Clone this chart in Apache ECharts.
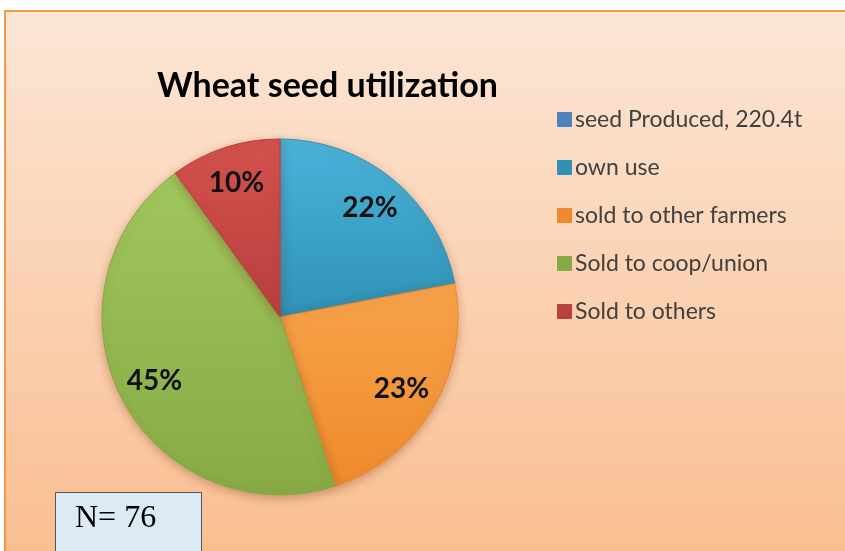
<!DOCTYPE html>
<html>
<head>
<meta charset="utf-8">
<script src="https://cdn.jsdelivr.net/npm/echarts@6/dist/echarts.min.js"></script>
<style>
html, body { margin: 0; padding: 0; background: #fff; }
#main { width: 845px; height: 551px; }
</style>
</head>
<body>
<div id="main"></div>
<script>
// 饼图数据
var categories = [
  'seed Produced, 220.4t',
  'own use',
  'sold to other farmers',
  'Sold to coop/union',
  'Sold to others'
]
var shares = [0, 22, 23, 45, 10]
var colorsTop = ['#4f81bd', '#4ab3da', '#f8a44a', '#a0c75d', '#d4514e']
var colorsBottom = ['#4f81bd', '#2f91b6', '#ee8a2c', '#87aa45', '#b8403d']
var sampleSize = 76

var mCharts = echarts.init(document.getElementById('main'))

function sliceColor(i) {
  return new echarts.graphic.LinearGradient(0, 0, 0, 1, [
    { offset: 0, color: colorsTop[i] },
    { offset: 1, color: colorsBottom[i] }
  ])
}

var pieData = categories.map(function (name, i) {
  return {
    name: name,
    value: shares[i],
    itemStyle: { color: sliceColor(i), borderColor: colorsBottom[i] }
  }
})

var labelData = categories.map(function (name, i) {
  return { name: name, value: shares[i] }
})

var option = {
  animation: false,
  title: {
    text: 'Wheat seed utilization',
    left: 152,
    top: 64,
    textStyle: {
      fontFamily: 'Lato',
      fontSize: 34,
      fontWeight: 'bold',
      color: '#000'
    }
  },
  legend: {
    orient: 'vertical',
    left: 552,
    top: 103,
    itemWidth: 13,
    itemHeight: 13,
    itemGap: 25,
    icon: 'rect',
    data: categories.map(function (name, i) {
      return { name: name, itemStyle: { color: colorsBottom[i] } }
    }),
    textStyle: {
      fontFamily: 'Lato',
      fontSize: 23,
      color: '#404040',
      padding: [0, 0, 0, -1]
    }
  },
  graphic: [
    {
      type: 'rect',
      z: -10,
      silent: true,
      shape: { x: 5, y: 11, width: 860, height: 560 },
      style: {
        fill: new echarts.graphic.LinearGradient(0, 0, 0, 1, [
          { offset: 0, color: '#fce6d6' },
          { offset: 1, color: '#f9bd8e' }
        ]),
        stroke: '#f79646',
        lineWidth: 2
      }
    },
    {
      type: 'group',
      z: 100,
      children: [
        {
          type: 'rect',
          shape: { x: 55.5, y: 492.5, width: 146, height: 70 },
          style: { fill: '#dbeaf3', stroke: '#555', lineWidth: 1 }
        },
        {
          type: 'text',
          x: 75,
          y: 503,
          style: {
            text: 'N= ' + sampleSize,
            font: '32px "Liberation Serif"',
            fill: '#000'
          }
        }
      ]
    }
  ],
  series: [
    {
      type: 'pie',
      center: [280, 317],
      radius: 178,
      startAngle: 90,
      clockwise: true,
      label: { show: false },
      labelLine: { show: false },
      itemStyle: {
        borderWidth: 1,
        shadowBlur: 10,
        shadowColor: 'rgba(120,60,20,0.35)',
        shadowOffsetY: 3
      },
      data: pieData
    },
    {
      // 只显示标签的透明层，让百分比落在半径约 0.77 处
      type: 'pie',
      center: [280, 317],
      radius: [98, 178],
      startAngle: 90,
      clockwise: true,
      silent: true,
      legendHoverLink: false,
      itemStyle: { color: 'rgba(0,0,0,0)' },
      labelLine: { show: false },
      label: {
        show: true,
        position: 'inside',
        fontFamily: 'Lato',
        fontSize: 28,
        fontWeight: 'bold',
        color: '#111',
        formatter: function (p) {
          return p.value > 0 ? p.percent + '%' : ''
        }
      },
      data: labelData
    }
  ]
}

mCharts.setOption(option)
</script>
</body>
</html>
